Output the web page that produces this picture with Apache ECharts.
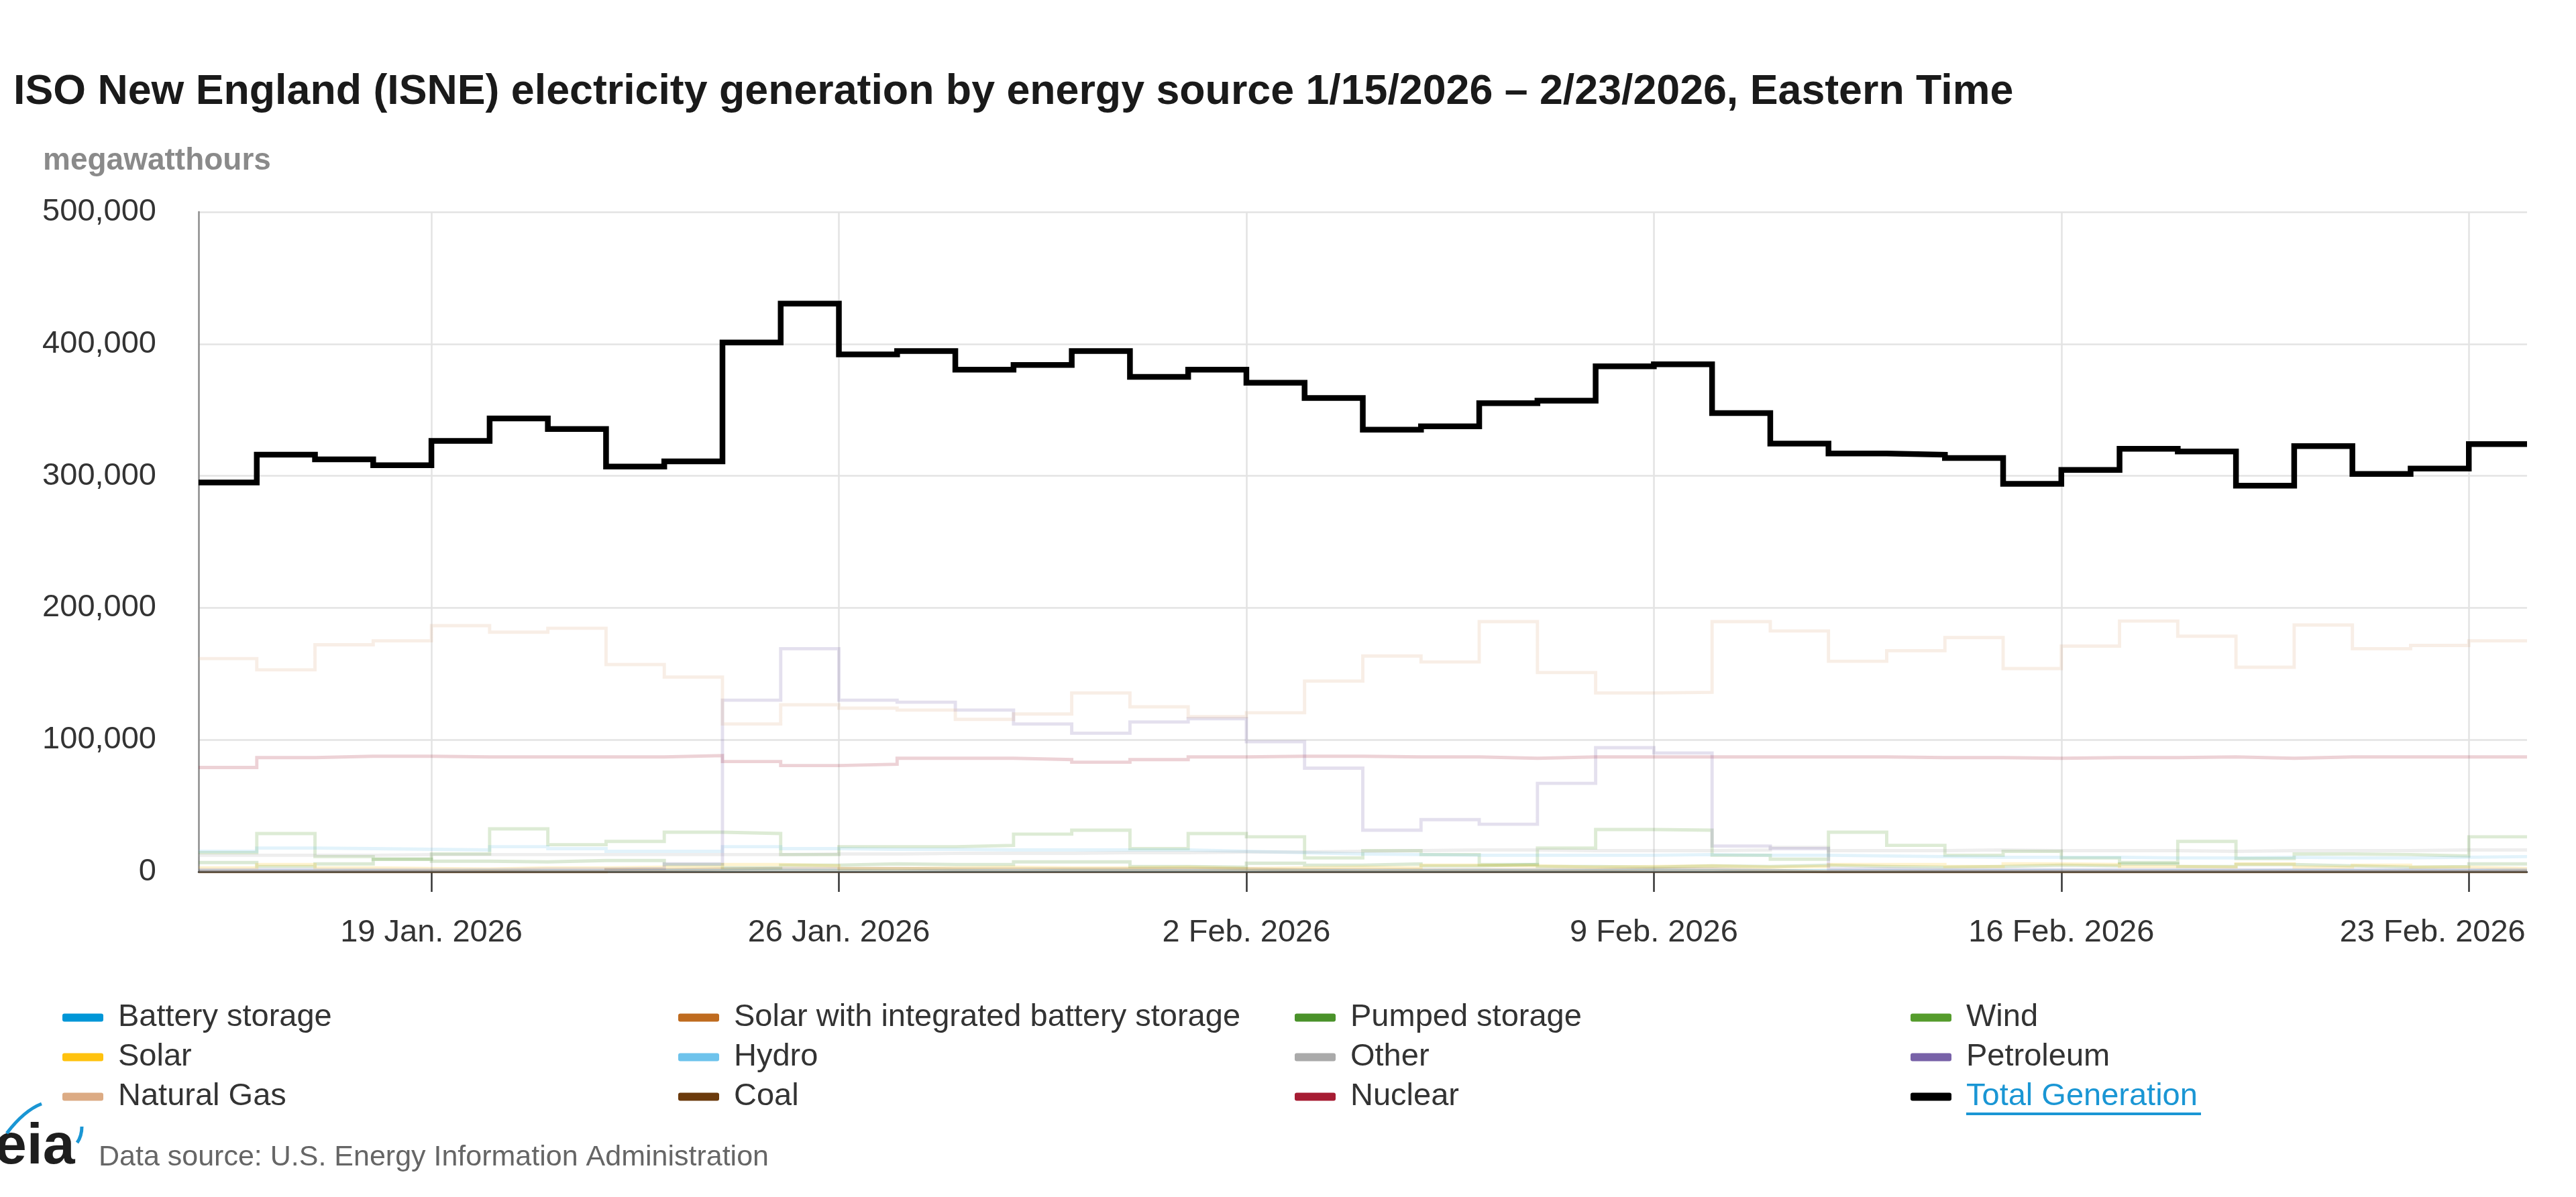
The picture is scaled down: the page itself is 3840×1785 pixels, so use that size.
<!DOCTYPE html>
<html>
<head>
<meta charset="utf-8">
<title>ISNE electricity generation</title>
<script src="https://cdn.jsdelivr.net/npm/echarts@6/dist/echarts.min.js"></script>
<style>
  html, body { margin: 0; padding: 0; background: #ffffff; }
  #chart { width: 3840px; height: 1785px; }
</style>
</head>
<body>
<div id="chart"></div>
<script>
// ---- data (daily megawatthours, 15 Jan 2026 .. 23 Feb 2026) ----
const dates = [
  "2026-01-15","2026-01-16","2026-01-17","2026-01-18","2026-01-19","2026-01-20","2026-01-21","2026-01-22",
  "2026-01-23","2026-01-24","2026-01-25","2026-01-26","2026-01-27","2026-01-28","2026-01-29","2026-01-30",
  "2026-01-31","2026-02-01","2026-02-02","2026-02-03","2026-02-04","2026-02-05","2026-02-06","2026-02-07",
  "2026-02-08","2026-02-09","2026-02-10","2026-02-11","2026-02-12","2026-02-13","2026-02-14","2026-02-15",
  "2026-02-16","2026-02-17","2026-02-18","2026-02-19","2026-02-20","2026-02-21","2026-02-22","2026-02-23",
  "2026-02-24"
];
const tickDates  = ["2026-01-19","2026-01-26","2026-02-02","2026-02-09","2026-02-16","2026-02-23"];
const tickLabels = ["19 Jan. 2026","26 Jan. 2026","2 Feb. 2026","9 Feb. 2026","16 Feb. 2026","23 Feb. 2026"];
const yTicks = [0, 100000, 200000, 300000, 400000, 500000];

const totalGeneration = [295000,316000,312500,308000,326500,343500,335500,307000,311000,401000,
  430500,392000,394500,380500,384000,394500,375000,380500,370500,359000,
  335000,337500,355000,357000,383000,384500,347500,324500,317000,316000,
  313500,294000,304500,320500,318500,292500,322500,301500,305500,324000];
const naturalGas = [161500,153000,172000,175000,186500,181500,184500,157000,147500,112000,
  126500,124000,122500,115500,119500,135500,125000,117500,120500,144500,
  163500,159000,189500,151000,135500,136000,189500,182500,159500,167500,
  177500,154000,171000,190000,178500,155000,187000,169000,171500,175000];
const nuclear = [79000,86500,87500,87500,87000,87000,87000,87000,88000,83500,
  80500,81500,86000,86000,85000,83000,85000,87000,87500,87500,
  87000,87000,86000,87000,87000,87000,87000,87000,87000,86500,
  86500,86000,86500,86500,87000,86000,87000,87000,87000,87000];
const petroleum = [1500,1500,1500,1500,1500,2000,2000,2500,6000,130000,
  169000,130000,128500,122500,112000,105000,113500,116000,98500,78500,
  31500,39500,36000,67000,94000,90000,19500,17500,2000,1500,
  1500,1500,1500,1500,1500,1500,1500,1500,1500,1500];
const wind = [14500,29000,11500,9500,13500,32500,20500,23000,30000,29000,
  13000,19000,19000,20000,28500,31500,17500,29000,26500,10500,
  16000,13000,5500,18000,32000,31500,12500,9500,30000,20000,
  12500,15500,10500,7000,23000,10000,13500,13000,12000,26500];
const hydro = [15500,18000,17500,17000,16500,19000,17500,15500,15500,19000,
  17500,17000,17000,16500,16500,16500,16500,15500,14500,13500,
  13000,12500,12500,12500,12500,13000,12500,12500,12000,11500,
  11000,11000,11000,10500,10500,11000,10500,10500,11000,11500];
const other = [12500,12500,12500,13000,13000,13000,13000,13000,13000,13000,
  13500,13500,14000,14000,14000,14500,14500,15000,15000,15500,
  16000,16500,16500,16000,16000,16000,16500,18500,16000,16000,
  16500,16000,16000,16000,15500,16000,16000,16000,16500,16500];
const pumpedStorage = [7000,4000,6000,9500,8000,7500,8500,8500,5500,3000,
  5000,6000,5500,5500,7500,7500,4000,3500,6500,5000,
  6000,4500,5500,4000,3500,4500,4000,5000,4000,3500,
  4000,5000,4500,6000,4000,5500,4500,3500,4000,6000];
const solar = [3000,5500,3000,2500,2000,3000,3000,3500,3500,5500,
  4500,2500,3000,3500,3000,3000,3500,2500,3000,3500,
  3000,5000,4500,3500,4000,4500,3500,4000,5500,5500,
  4000,6000,5500,4000,3500,6000,3500,5000,3500,2500];
const batteryStorage = [700,600,800,700,900,800,700,900,800,1000,
  900,700,800,700,900,800,700,800,900,700,
  800,900,700,800,900,800,700,900,800,700,
  800,900,700,800,700,900,800,700,800,900];
const coal = [0,0,0,0,0,0,0,1500,2000,2500,
  2500,2500,2000,2000,2000,2000,2000,2000,1500,1500,
  1500,1500,1500,1500,2000,2000,1000,0,0,0,
  0,0,0,0,0,0,0,0,0,0];
const solarWithBattery = [100,100,100,100,100,100,100,100,100,100,
  100,100,100,100,100,100,100,100,100,100,
  100,100,100,100,100,100,100,100,100,100,
  100,100,100,100,100,100,100,100,100,100];

// ---- styling ----
const FONT = '"Liberation Sans", Arial, Helvetica, sans-serif';
const seriesDefs = [
  { name: 'Battery storage', data: batteryStorage, color: '#0096d7' },
  { name: 'Solar with integrated battery storage', data: solarWithBattery, color: '#bf6b1f' },
  { name: 'Pumped storage', data: pumpedStorage, color: '#4a922a' },
  { name: 'Wind', data: wind, color: '#559c2c' },
  { name: 'Solar', data: solar, color: '#ffc20e' },
  { name: 'Hydro', data: hydro, color: '#6ec3ec' },
  { name: 'Other', data: other, color: '#aaaaaa' },
  { name: 'Petroleum', data: petroleum, color: '#7862a8' },
  { name: 'Natural Gas', data: naturalGas, color: '#dcab84' },
  { name: 'Coal', data: coal, color: '#6b3a0c' },
  { name: 'Nuclear', data: nuclear, color: '#a61c33' },
  { name: 'Total Generation', data: totalGeneration, color: '#000000', main: true }
];

const tickSet = new Set(tickDates);
const isTick = (index, value) => tickSet.has(value);
const fmtNum = v => Number(v).toLocaleString('en-US');
const lastTick = tickDates[tickDates.length - 1];

const series = seriesDefs.map(d => ({
  name: d.name,
  type: 'line',
  step: 'end',
  showSymbol: false,
  symbol: 'none',
  silent: true,
  animation: false,
  color: d.color,
  z: d.main ? 5 : 2,
  // extend last day to the end of the day (next category)
  data: d.data.concat([d.data[d.data.length - 1]]),
  lineStyle: {
    color: d.color,
    width: d.main ? 8.5 : 4.9,
    opacity: d.main ? 1 : 0.2,
    join: 'miter',
    cap: 'butt'
  },
  itemStyle: { color: d.color },
  emphasis: { disabled: true }
}));

const legendBase = {
  orient: 'vertical',
  top: 1494,
  padding: 0,
  itemGap: 12,
  itemWidth: 61,
  itemHeight: 12,
  icon: 'roundRect',
  selectedMode: false,
  itemStyle: { opacity: 1, borderWidth: 0 },
  lineStyle: { opacity: 1 },
  textStyle: { fontSize: 47, lineHeight: 47, color: '#333333', fontFamily: FONT, padding: [0, 0, 0, 17] }
};
const legendCols = [
  { left: 93,   names: ['Battery storage', 'Solar', 'Natural Gas'] },
  { left: 1011, names: ['Solar with integrated battery storage', 'Hydro', 'Coal'] },
  { left: 1930, names: ['Pumped storage', 'Other', 'Nuclear'] },
  { left: 2848, names: ['Wind', 'Petroleum', 'Total Generation'] }
];
const legends = legendCols.map(c => Object.assign({}, legendBase, {
  left: c.left,
  data: c.names.map(n => n === 'Total Generation'
    ? { name: n, textStyle: { color: '#1a96d4' } }
    : { name: n })
}));

const option = {
  backgroundColor: '#ffffff',
  animation: false,
  textStyle: { fontFamily: FONT },
  title: [
    {
      text: 'ISO New England (ISNE) electricity generation by energy source 1/15/2026 – 2/23/2026, Eastern Time',
      left: 20, top: 106, padding: 0,
      textStyle: { fontSize: 62.7, fontWeight: 'bold', color: '#1a1a1a', fontFamily: FONT, lineHeight: 63 }
    },
    {
      text: 'megawatthours',
      left: 64, top: 217, padding: 0,
      textStyle: { fontSize: 46, fontWeight: 'bold', color: '#8a8a8a', fontFamily: FONT, lineHeight: 46 }
    },
    {
      text: 'Data source: U.S. Energy Information Administration',
      left: 147, top: 1705, padding: 0,
      textStyle: { fontSize: 43, fontWeight: 'normal', color: '#666666', fontFamily: FONT, lineHeight: 43 }
    }
  ],
  legend: legends,
  grid: { left: 296, right: 73, top: 316, bottom: 485, containLabel: false },
  xAxis: {
    type: 'category',
    boundaryGap: false,
    data: dates,
    axisLine: { show: true, lineStyle: { color: '#333333', width: 2.5 } },
    axisTick: { show: true, interval: isTick, length: 30, lineStyle: { color: '#333333', width: 2.5 } },
    axisLabel: {
      interval: isTick,
      formatter: v => {
        const t = tickLabels[tickDates.indexOf(v)] || '';
        return v === lastTick ? '{r|' + t + '}' : t;
      },
      rich: { r: { fontSize: 47, color: '#333333', fontFamily: FONT, padding: [0, 108, 0, 0] } },
      fontSize: 47, color: '#333333', fontFamily: FONT, margin: 68
    },
    splitLine: { show: true, interval: (i, v) => i > 0 && tickSet.has(v), lineStyle: { color: '#e3e3e3', width: 2.5 } }
  },
  yAxis: {
    type: 'value',
    min: yTicks[0],
    max: yTicks[yTicks.length - 1],
    interval: 100000,
    axisLine: { show: true, lineStyle: { color: '#8c8c8c', width: 2.5 } },
    axisTick: { show: false },
    axisLabel: { formatter: v => fmtNum(v), fontSize: 47, color: '#333333', fontFamily: FONT, margin: 63 },
    splitLine: { show: true, lineStyle: { color: '#e3e3e3', width: 2.5 } }
  },
  series: series,
  graphic: [
    // underline for hovered legend item
    { type: 'rect', left: 2931, top: 1659, shape: { width: 350, height: 4 }, style: { fill: '#1a96d4' }, silent: true },
    // EIA logo
    { type: 'text', left: -8, top: 1668, style: { text: 'eia', font: 'bold 86px ' + FONT, fill: '#1e1e1e' }, silent: true },
    { type: 'bezierCurve', shape: { x1: 62, y1: 1646, x2: 10, y2: 1690, cpx1: 36, cpy1: 1656 }, style: { stroke: '#1a96d4', lineWidth: 5, fill: null }, silent: true },
    { type: 'bezierCurve', shape: { x1: 122, y1: 1680, x2: 115, y2: 1704, cpx1: 122, cpy1: 1694 }, style: { stroke: '#1a96d4', lineWidth: 5, fill: null }, silent: true }
  ]
};

const chart = echarts.init(document.getElementById('chart'), null, { renderer: 'canvas', width: 3840, height: 1785 });
chart.setOption(option);
</script>
</body>
</html>
